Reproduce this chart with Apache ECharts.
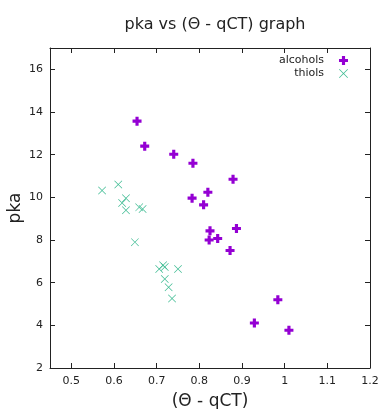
<!DOCTYPE html>
<html>
<head>
<meta charset="utf-8">
<script src="https://cdn.jsdelivr.net/npm/echarts@6/dist/echarts.min.js"></script>
<style>html,body{margin:0;padding:0;background:#fff}#c{width:379px;height:409px}</style>
</head>
<body>
<div id="c"></div>
<script>
var alcoholsX = [0.654, 0.672, 0.740, 0.785, 0.879, 0.820, 0.783, 0.810, 0.825, 0.887, 0.823, 0.843, 0.872, 0.984, 0.929, 1.010];
var alcoholsY = [13.57, 12.40, 12.02, 11.60, 10.85, 10.24, 9.96, 9.65, 8.43, 8.54, 8.00, 8.07, 7.51, 5.20, 4.11, 3.77];
var thiolsX = [0.572, 0.610, 0.628, 0.619, 0.628, 0.659, 0.667, 0.649, 0.715, 0.719, 0.706, 0.750, 0.719, 0.728, 0.736];
var thiolsY = [10.32, 10.60, 9.96, 9.73, 9.39, 9.53, 9.45, 7.90, 6.82, 6.73, 6.64, 6.64, 6.17, 5.79, 5.26];
var xTicks = [0.5, 0.6, 0.7, 0.8, 0.9, 1, 1.1, 1.2];
var yTicks = [2, 4, 6, 8, 10, 12, 14, 16];

function pairs(xs, ys) { return xs.map(function (x, i) { return [x, ys[i]]; }); }

var plusPath = 'path://M2.6,0H5.4V2.6H8V5.4H5.4V8H2.6V5.4H0V2.6H2.6Z';
var crossPath = 'path://M0,0.6L0.6,0L5,4.4L9.4,0L10,0.6L5.6,5L10,9.4L9.4,10L5,5.6L0.6,10L0,9.4L4.4,5Z';
var font = 'DejaVu Sans';
var lineC = '#222';

var chart = echarts.init(document.getElementById('c'));
var baseX = {
  type: 'value', min: 0.45, max: 1.2,
  axisLine: { show: true, onZero: false, lineStyle: { color: lineC, width: 1 } },
  axisTick: { show: true, inside: true, length: 5, customValues: xTicks, lineStyle: { color: lineC } },
  splitLine: { show: false }
};
var baseY = {
  type: 'value', min: 2, max: 17,
  axisLine: { show: true, onZero: false, lineStyle: { color: lineC, width: 1 } },
  axisTick: { show: true, inside: true, length: 5, customValues: yTicks, lineStyle: { color: lineC } },
  splitLine: { show: false }
};
chart.setOption({
  animation: false,
  title: {
    text: 'pka vs (\u0398 - qCT) graph', left: 210, top: 12, textAlign: 'center',
    textStyle: { fontFamily: font, fontSize: 16, fontWeight: 'normal', color: '#222' }
  },
  grid: { left: 50, right: 9, top: 48, bottom: 41, containLabel: false, outerBoundsMode: 'none' },
  legend: {
    orient: 'vertical', right: 26, top: 50, align: 'right', itemGap: 2,
    itemWidth: 9, itemHeight: 9,
    textStyle: { fontFamily: font, fontSize: 11, color: '#222', padding: [0, 10, 0, 0] },
    data: [{ name: 'alcohols', icon: plusPath }, { name: 'thiols', icon: crossPath }]
  },
  xAxis: [
    Object.assign({}, baseX, {
      position: 'bottom',
      name: '(\u0398 - qCT)', nameLocation: 'middle', nameGap: 25, nameMoveOverlap: false,
      nameTextStyle: { fontFamily: font, fontSize: 17, color: '#222' },
      axisLabel: { customValues: xTicks, fontFamily: font, fontSize: 11, color: '#222', margin: 8 }
    }),
    Object.assign({}, baseX, { position: 'top', axisLabel: { show: false } })
  ],
  yAxis: [
    Object.assign({}, baseY, {
      position: 'left',
      name: 'pka', nameLocation: 'middle', nameGap: 26, nameRotate: 90, nameMoveOverlap: false,
      nameTextStyle: { fontFamily: font, fontSize: 17, color: '#222' },
      axisLabel: { customValues: yTicks, fontFamily: font, fontSize: 11, color: '#222', margin: 7 }
    }),
    Object.assign({}, baseY, { position: 'right', axisLabel: { show: false } })
  ],
  series: [
    {
      name: 'alcohols', type: 'scatter', xAxisIndex: 0, yAxisIndex: 0,
      symbol: plusPath, symbolSize: 9,
      itemStyle: { color: '#9400d3', opacity: 1 },
      data: pairs(alcoholsX, alcoholsY)
    },
    {
      name: 'thiols', type: 'scatter', xAxisIndex: 0, yAxisIndex: 0,
      symbol: crossPath, symbolSize: 8,
      itemStyle: { color: '#3dbb92', opacity: 1 },
      data: pairs(thiolsX, thiolsY)
    }
  ]
});
</script>
</body>
</html>
